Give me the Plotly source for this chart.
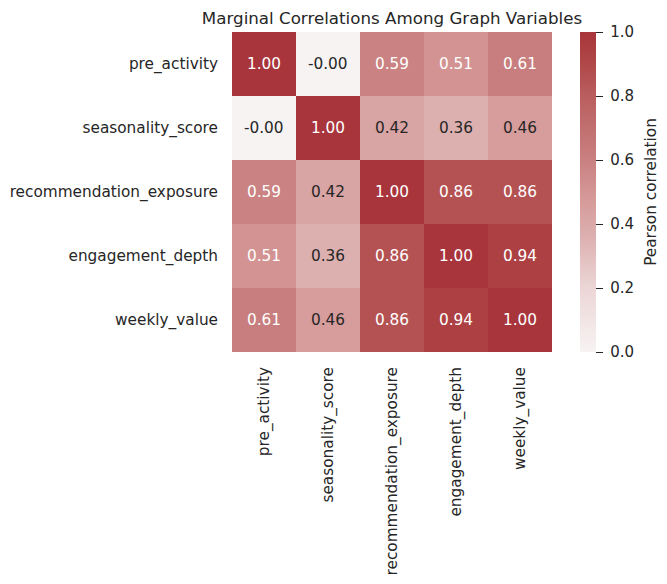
import plotly.graph_objects as go

variables = ["pre_activity", "seasonality_score", "recommendation_exposure",
             "engagement_depth", "weekly_value"]
corr = [
    [1.00, -0.001, 0.59, 0.51, 0.61],
    [-0.001, 1.00, 0.42, 0.36, 0.46],
    [0.59, 0.42, 1.00, 0.86, 0.86],
    [0.51, 0.36, 0.86, 1.00, 0.94],
    [0.61, 0.46, 0.86, 0.94, 1.00],
]
title = "Marginal Correlations Among Graph Variables"
cbar_title = "Pearson correlation"
cbar_ticks = [0.0, 0.2, 0.4, 0.6, 0.8, 1.0]

colorscale = [
    [0.0, "#f7f3f3"],
    [0.2, "#ecd6d6"],
    [0.36, "#ddb0b0"],
    [0.5, "#d49595"],
    [0.6, "#c98080"],
    [0.8, "#ba5e5f"],
    [0.9, "#b04849"],
    [1.0, "#a8353b"],
]

# page body adds an 8px offset, so the figure is 8px smaller
OFF = 8
W, H = 667 - OFF, 584 - OFF
L, T = 232 - OFF, 32 - OFF
PW = PH = 320
R, B = W - L - PW, H - T - PH
font = "DejaVu Sans"
dark = "#262626"

# invisible padding glyphs to widen the gap around colorbar labels
pad_l = "<span style='color:rgba(0,0,0,0)'>.</span>"
pad_r = "<span style='color:rgba(0,0,0,0)'>-</span>"
cbar_text = [f"{pad_l}{v:.1f}{pad_r}" for v in cbar_ticks]

fig = go.Figure(go.Heatmap(
    z=corr, x=variables, y=variables,
    zmin=0, zmax=1, colorscale=colorscale,
    xgap=0, ygap=0, hoverinfo="skip",
    colorbar=dict(
        x=(580 - OFF - L) / PW, xanchor="left", xref="paper",
        y=1, yanchor="top", len=PH, lenmode="pixels", ypad=0, xpad=0,
        thickness=16, thicknessmode="pixels",
        outlinewidth=0, ticks="outside", ticklen=7, tickwidth=1.2,
        tickcolor=dark, tickvals=cbar_ticks, ticktext=cbar_text,
        tickfont=dict(family=font, size=15, color=dark),
        title=dict(text=cbar_title, side="right",
                   font=dict(family=font, size=15.3, color=dark)),
    ),
))

anns = []
for i, row in enumerate(corr):
    for j, v in enumerate(row):
        anns.append(dict(
            x=variables[j], y=variables[i], xref="x", yref="y",
            text=f"{v:.2f}", showarrow=False,
            font=dict(family=font, size=15.3,
                      color="white" if v >= 0.5 else dark),
        ))

fig.update_layout(
    width=W, height=H,
    margin=dict(l=L, r=R, t=T, b=B, pad=0, autoexpand=False),
    paper_bgcolor="white", plot_bgcolor="white",
    title=dict(text=title, x=(L + PW / 2) / W, xanchor="center",
               y=1 - (18 - OFF) / H, yanchor="middle", automargin=False,
               font=dict(family=font, size=16.7, color=dark)),
    annotations=anns,
    xaxis=dict(tickangle=-90, showgrid=False, zeroline=False, ticks="",
               automargin=False, ticklabelstandoff=11,
               tickfont=dict(family=font, size=15.3, color=dark)),
    yaxis=dict(autorange="reversed", showgrid=False, zeroline=False,
               ticks="", automargin=False, ticklabelstandoff=13,
               tickfont=dict(family=font, size=15.3, color=dark)),
)

fig.write_html("out.html")
